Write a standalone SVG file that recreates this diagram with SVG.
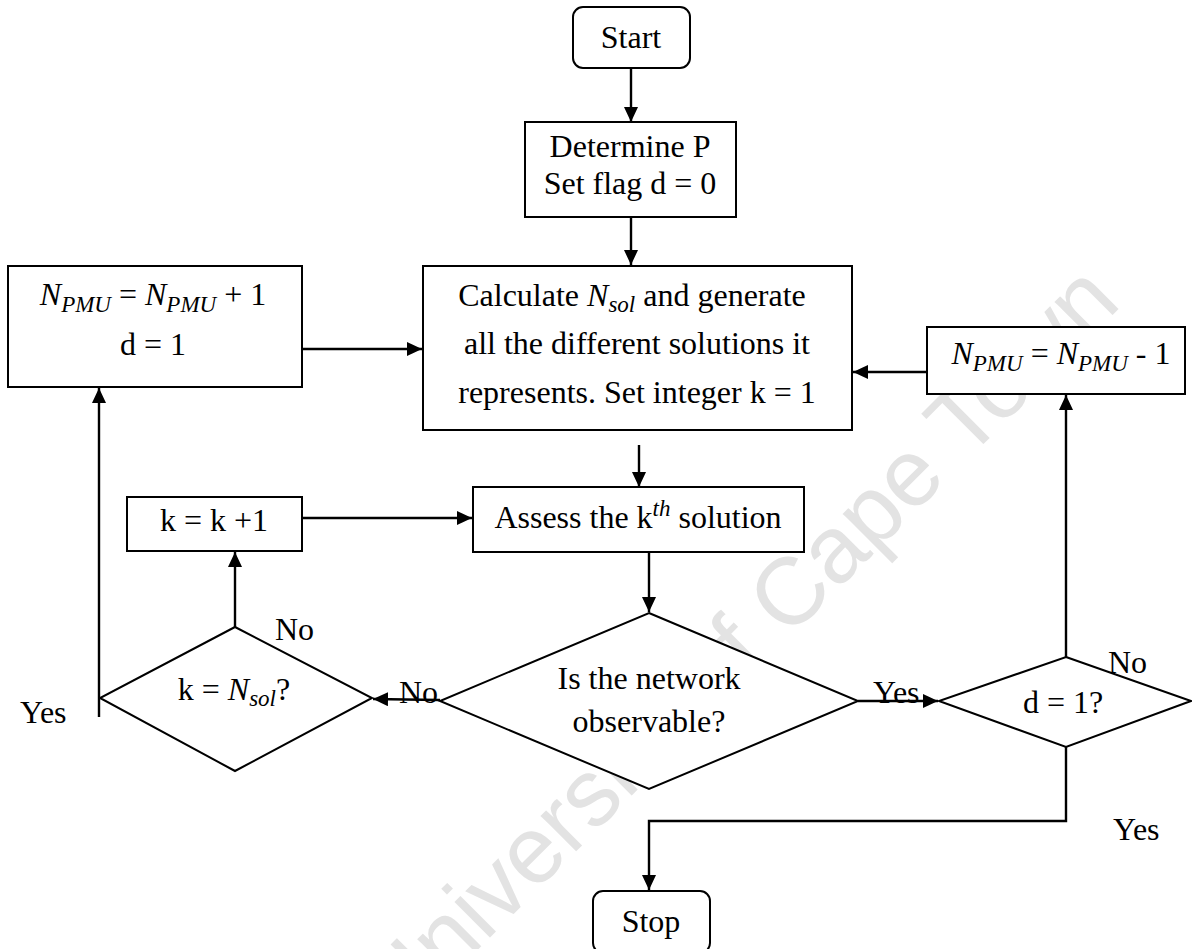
<svg xmlns="http://www.w3.org/2000/svg" width="1192" height="949" viewBox="0 0 1192 949">
<style>
text { font-family: "Liberation Serif", "Times New Roman", serif; font-size: 32px; fill: #000; }
.m { font-style: italic; }
.s { font-style: italic; font-size: 23px; }
.node { fill: #fff; stroke: #000; stroke-width: 2; }
.c { fill: none; stroke: #000; stroke-width: 2.4; }
.wm { font-family: "Liberation Sans", Arial, sans-serif; font-size: 95px; fill: #e3e3e3; }
</style>
<defs>
<marker id="ah" markerUnits="userSpaceOnUse" markerWidth="16" markerHeight="14" refX="15" refY="7" orient="auto">
<path d="M0,0 L15,7 L0,14 z" fill="#000"/>
</marker>
</defs>
<rect x="0" y="0" width="1192" height="949" fill="#fff"/>
<g id="watermark" transform="translate(740,645) rotate(-45)">
<text class="wm" x="0" y="30" text-anchor="middle">University of Cape Town</text>
</g>
<g id="connectors">
<line class="c" x1="631" y1="68" x2="631" y2="122" marker-end="url(#ah)"/>
<line class="c" x1="631" y1="217" x2="631" y2="265" marker-end="url(#ah)"/>
<line class="c" x1="302" y1="349" x2="422" y2="349" marker-end="url(#ah)"/>
<line class="c" x1="927" y1="372" x2="853" y2="372" marker-end="url(#ah)"/>
<line class="c" x1="639" y1="445" x2="639" y2="487" marker-end="url(#ah)"/>
<line class="c" x1="302" y1="518" x2="472" y2="518" marker-end="url(#ah)"/>
<line class="c" x1="649" y1="553" x2="649" y2="612" marker-end="url(#ah)"/>
<line class="c" x1="440" y1="700" x2="373" y2="699" marker-end="url(#ah)"/>
<line class="c" x1="858" y1="701" x2="938" y2="701" marker-end="url(#ah)"/>
<line class="c" x1="235" y1="627" x2="235" y2="552" marker-end="url(#ah)"/>
<line class="c" x1="99" y1="717" x2="99" y2="388" marker-end="url(#ah)"/>
<line class="c" x1="1066" y1="657" x2="1066" y2="395" marker-end="url(#ah)"/>
<polyline class="c" points="1066,747 1066,821 649,821 649,890" marker-end="url(#ah)"/>
</g>
<g id="start">
<rect class="node" x="573" y="7" width="117" height="61" rx="10"/>
<text x="631" y="48" text-anchor="middle">Start</text>
</g>
<g id="determine">
<rect class="node" x="525" y="122" width="211" height="95"/>
<text x="630" y="157" text-anchor="middle">Determine P</text>
<text x="630" y="194" text-anchor="middle">Set flag d = 0</text>
</g>
<g id="calculate">
<rect class="node" x="423" y="266" width="429" height="164"/>
<text x="632" y="306" text-anchor="middle">Calculate <tspan class="m">N</tspan><tspan class="s" dy="6">sol</tspan><tspan dy="-6"> and generate</tspan></text>
<text x="637" y="354" text-anchor="middle">all the different solutions it</text>
<text x="637" y="403" text-anchor="middle">represents. Set integer k = 1</text>
</g>
<g id="inc">
<rect class="node" x="8" y="266" width="294" height="121"/>
<text x="153" y="305" text-anchor="middle"><tspan class="m">N</tspan><tspan class="s" dy="7">PMU</tspan><tspan dy="-7"> =  </tspan><tspan class="m">N</tspan><tspan class="s" dy="7">PMU</tspan><tspan dy="-7"> + 1</tspan></text>
<text x="153" y="355" text-anchor="middle">d = 1</text>
</g>
<g id="dec">
<rect class="node" x="927" y="327" width="258" height="67"/>
<text x="1061" y="364" text-anchor="middle"><tspan class="m">N</tspan><tspan class="s" dy="7">PMU</tspan><tspan dy="-7"> =  </tspan><tspan class="m">N</tspan><tspan class="s" dy="7">PMU</tspan><tspan dy="-7"> - 1</tspan></text>
</g>
<g id="assess">
<rect class="node" x="473" y="487" width="331" height="65"/>
<text x="638" y="528" text-anchor="middle">Assess the k<tspan class="s" dy="-12">th</tspan><tspan dy="12"> solution</tspan></text>
</g>
<g id="kinc">
<rect class="node" x="127" y="497" width="175" height="54"/>
<text x="214" y="531" text-anchor="middle">k = k +1</text>
</g>
<g id="observable">
<polygon class="node" points="649,613 858,701 649,789 440,701"/>
<text x="649" y="689" text-anchor="middle">Is the network</text>
<text x="649" y="732" text-anchor="middle">observable?</text>
</g>
<g id="kcheck">
<polygon class="node" points="235,627 372,698 235,771 100,698"/>
<text x="234" y="700" text-anchor="middle">k = <tspan class="m">N</tspan><tspan class="s" dy="6">sol</tspan><tspan dy="-6">?</tspan></text>
</g>
<g id="dcheck">
<polygon class="node" points="1066,657 1191,701 1066,747 939,701"/>
<text x="1063" y="713" text-anchor="middle">d = 1?</text>
</g>
<g id="stop">
<rect class="node" x="593" y="891" width="117" height="62" rx="10"/>
<text x="651" y="932" text-anchor="middle">Stop</text>
</g>
<g id="labels">
<text x="275" y="640">No</text>
<text x="399" y="703">No</text>
<text x="873" y="703">Yes</text>
<text x="1108" y="673">No</text>
<text x="20" y="723">Yes</text>
<text x="1113" y="840">Yes</text>
</g>
</svg>
